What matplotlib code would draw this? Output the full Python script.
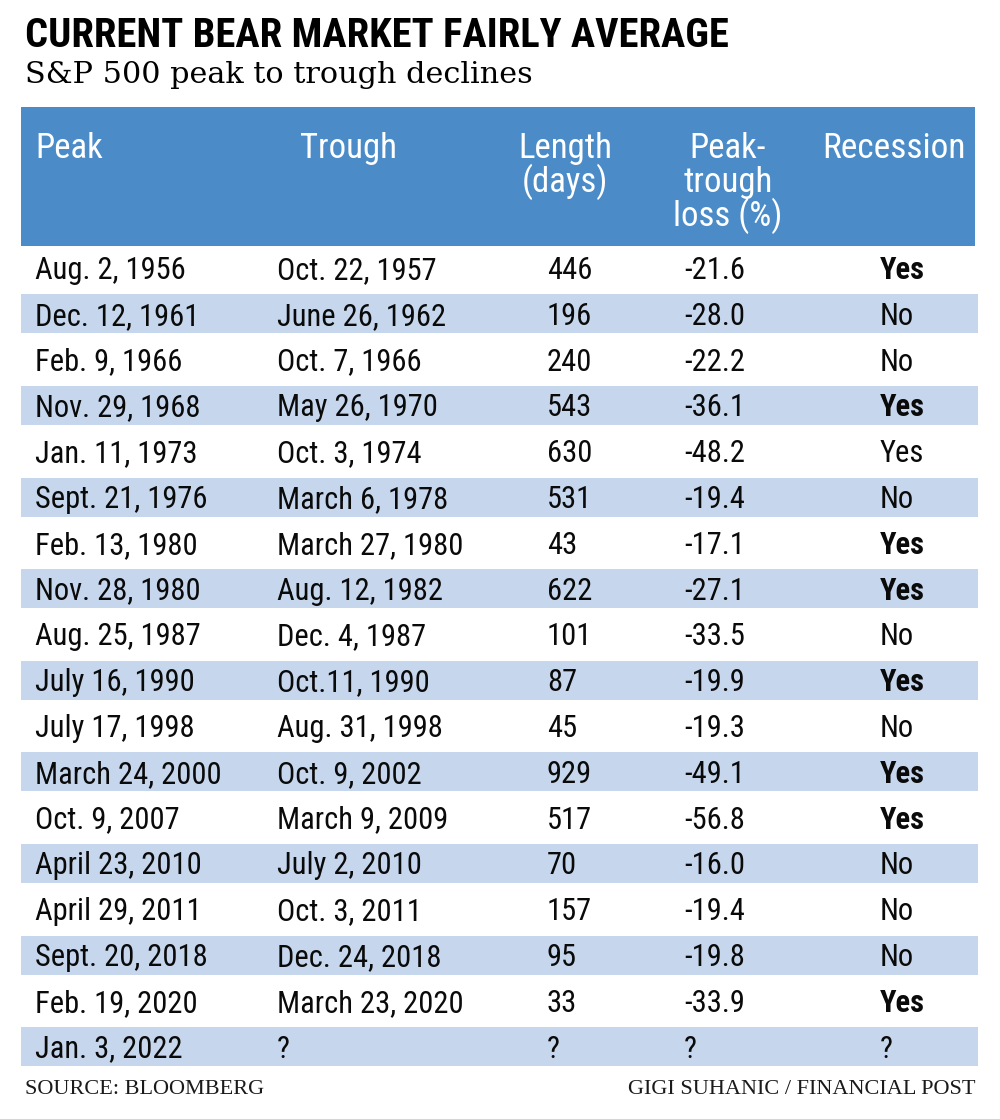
import matplotlib
matplotlib.use("Agg")
import matplotlib.pyplot as plt

# ---------------- data ----------------
title = "CURRENT BEAR MARKET FAIRLY AVERAGE"
subtitle = "S&P 500 peak to trough declines"
source = "SOURCE: BLOOMBERG"
credit = "GIGI SUHANIC / FINANCIAL POST"

header_peak = "Peak"
header_trough = "Trough"
header_length = ["Length", "(days)"]
header_loss = ["Peak-", "trough", "loss (%)"]
header_recession = "Recession"

peaks = ["Aug. 2, 1956", "Dec. 12, 1961", "Feb. 9, 1966", "Nov. 29, 1968",
         "Jan. 11, 1973", "Sept. 21, 1976", "Feb. 13, 1980", "Nov. 28, 1980",
         "Aug. 25, 1987", "July 16, 1990", "July 17, 1998", "March 24, 2000",
         "Oct. 9, 2007", "April 23, 2010", "April 29, 2011", "Sept. 20, 2018",
         "Feb. 19, 2020", "Jan. 3, 2022"]
troughs = ["Oct. 22, 1957", "June 26, 1962", "Oct. 7, 1966", "May 26, 1970",
           "Oct. 3, 1974", "March 6, 1978", "March 27, 1980", "Aug. 12, 1982",
           "Dec. 4, 1987", "Oct.11, 1990", "Aug. 31, 1998", "Oct. 9, 2002",
           "March 9, 2009", "July 2, 2010", "Oct. 3, 2011", "Dec. 24, 2018",
           "March 23, 2020", "?"]
lengths = [446, 196, 240, 543, 630, 531, 43, 622, 101, 87, 45, 929, 517, 70,
           157, 95, 33, None]
losses = [-21.6, -28.0, -22.2, -36.1, -48.2, -19.4, -17.1, -27.1, -33.5,
          -19.9, -19.3, -49.1, -56.8, -16.0, -19.4, -19.8, -33.9, None]
recession = ["Yes", "No", "No", "Yes", "Yes", "No", "Yes", "Yes", "No", "Yes",
             "No", "Yes", "Yes", "No", "No", "No", "Yes", "?"]
recession_bold = [True, False, False, True, False, False, True, True, False,
                  True, False, True, True, False, False, False, True, False]

# ---------------- style ----------------
SANS = ["Roboto Condensed", "Liberation Sans Narrow", "Roboto", "DejaVu Sans"]
SERIF = ["DejaVu Serif"]
FOOT = ["Liberation Serif", "DejaVu Serif"]
HEAD_BG = "#4a8bc8"
BAND_BG = "#c6d6ed"
TXT = "#0a0a0a"

W, H = 1000, 1119
fig = plt.figure(figsize=(W / 100, H / 100), dpi=100)
ax = fig.add_axes([0, 0, 1, 1])
ax.set_xlim(0, W)
ax.set_ylim(H, 0)
ax.axis("off")

# layout (pixels)
tbl_left, tbl_right = 21, 975
head_top, head_bot = 107, 246
row0, row_h, band_h = 268, 45.8, 39
col_x = [35, 277, 547, 684, 880]

# title / subtitle
ax.text(25, 47, title, family=SANS, weight="bold", fontsize=29.2,
        color="#000000", va="baseline", ha="left")
ax.text(25, 83, subtitle, family=SERIF, fontsize=21.8, color="#000000",
        va="baseline", ha="left")

# header band
ax.barh([(head_top + head_bot) / 2], [tbl_right - tbl_left], left=tbl_left,
        height=head_bot - head_top, color=HEAD_BG, linewidth=0)
hfs = 25
hline = 34
hb = 158
ax.text(35, hb, header_peak, family=SANS, fontsize=hfs, color="white", va="baseline")
ax.text(300, hb, header_trough, family=SANS, fontsize=hfs, color="white", va="baseline")
for k, s in enumerate(header_length):
    ax.text(565, hb + k * hline, s, family=SANS, fontsize=hfs, color="white",
            va="baseline", ha="center")
for k, s in enumerate(header_loss):
    ax.text(728, hb + k * hline, s, family=SANS, fontsize=hfs, color="white",
            va="baseline", ha="center")
ax.text(894, hb, header_recession, family=SANS, fontsize=hfs + 0.5, color="white",
        va="baseline", ha="center")

# rows
n = len(peaks)
centers = [row0 + i * row_h for i in range(n)]
band_rows = [c for i, c in enumerate(centers) if i % 2 == 1]
ax.barh(band_rows, [tbl_right - tbl_left + 3] * len(band_rows), left=tbl_left,
        height=band_h, color=BAND_BG, linewidth=0)

bfs = 22
for i in range(n):
    yb = centers[i] + 11
    cells = [peaks[i], troughs[i],
             "?" if lengths[i] is None else str(lengths[i]),
             "?" if losses[i] is None else f"{losses[i]:.1f}",
             recession[i]]
    for j, s in enumerate(cells):
        w = "bold" if (j == 4 and recession_bold[i]) else "normal"
        ax.text(col_x[j], yb, s, family=SANS, fontsize=bfs, color=TXT,
                weight=w, va="baseline", ha="left")

# footer
ax.text(25, 1094, source, family=FOOT, fontsize=16, color="#1a1a1a",
        va="baseline", ha="left")
ax.text(975, 1094, credit, family=FOOT, fontsize=16, color="#1a1a1a",
        va="baseline", ha="right")

fig.savefig("out.png", dpi=100, facecolor="white")
